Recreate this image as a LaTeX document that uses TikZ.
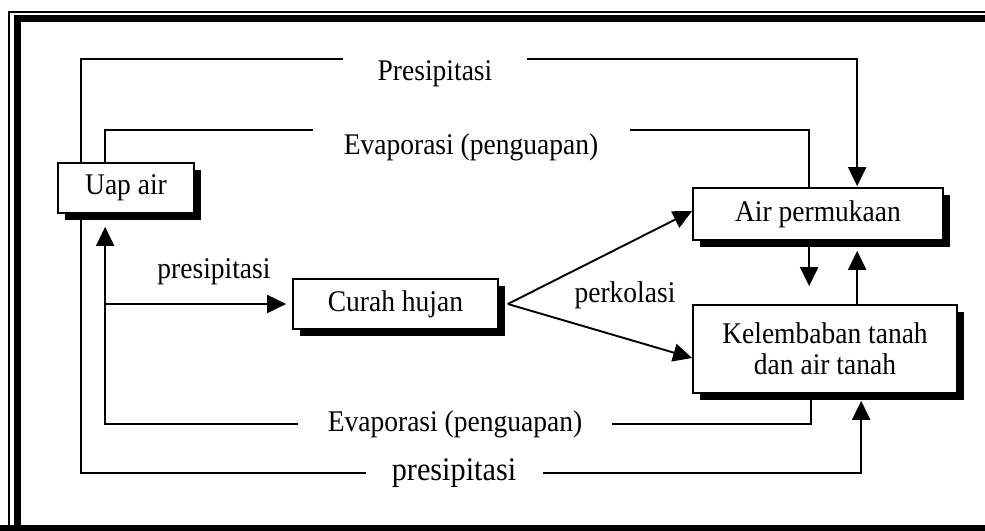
\documentclass[tikz,border=0pt]{standalone}
\usepackage{fontspec}
\setmainfont{Liberation Serif}[FakeStretch=0.917]
\usetikzlibrary{arrows.meta,shadows}
\begin{document}
\begin{tikzpicture}[x=1pt,y=-1pt,
  box/.style={draw=black, line width=1.7pt, fill=white, inner sep=0pt,
    font=\fontsize{30}{31}\selectfont, align=center,
    drop shadow={shadow xshift=7pt, shadow yshift=-7pt, fill=black, opacity=1}},
  flow/.style={line width=1.9pt},
  arr/.style={flow, -{Triangle[width=18pt,length=19pt]}},
  lbl/.style={font=\fontsize{30}{31}\selectfont, inner sep=0pt},
  gap/.style={lbl, fill=white, inner ysep=6pt, anchor=base}
]
\useasboundingbox (0,0) rectangle (985,530);

% double frame: thin outer rule, heavy inner rule, heavy bottom rule
\draw[line width=1.5pt] (9,531) -- (9,12) -- (986,12);
\draw[line width=7pt] (17.5,531) -- (17.5,18.5) -- (986,18.5);
\draw[line width=6pt] (0,528) -- (986,528);

% boxes
\node[box, minimum width=136pt, minimum height=50pt] (uap) at (126,188) {Uap air};
\node[box, minimum width=205pt, minimum height=50pt] (curah) at (395.5,304) {Curah hujan};
\node[box, minimum width=250pt, minimum height=52pt] (air) at (818,214) {Air permukaan};
\node[box, minimum width=264pt, minimum height=88pt] (kel) at (825,349) {Kelembaban tanah\\dan air tanah};

% attachment points on the box edges
\coordinate (uN1) at ([xshift=24pt]uap.north west);
\coordinate (uN2) at ([xshift=48pt]uap.north west);
\coordinate (uS1) at ([xshift=24pt]uap.south west);
\coordinate (uS2) at ([xshift=48pt,yshift=-13pt]uap.south west);
\coordinate (aN1) at ([xshift=117pt]air.north west);
\coordinate (aN2) at ([xshift=165pt,yshift=1pt]air.north west);
\coordinate (aS1) at ([xshift=117pt]air.south west);
\coordinate (aS2) at ([xshift=165pt,yshift=-10pt]air.south west);
\coordinate (kN1) at ([xshift=117pt,yshift=18pt]kel.north west);
\coordinate (kN2) at ([xshift=165pt]kel.north west);
\coordinate (kS1) at ([xshift=119pt]kel.south west);
\coordinate (kS2) at ([xshift=169pt,yshift=-7pt]kel.south west);

% connectors
\draw[arr] (uN1) -- ++(0,-103) -| (aN2);
\draw[flow] (uN2) -- ++(0,-32) -| (aN1);
\draw[arr] (kS1) -- ++(0,30) -| (uS2);
\draw[arr] (uS1) -- ++(0,259) -| (kS2);
\draw[arr] (uS2 |- curah.west) -- ([xshift=-6pt]curah.west);
\draw[arr] ([xshift=9pt]curah.east) -- ([yshift=3pt]air.west);
\draw[arr] ([xshift=9pt]curah.east) -- ([yshift=-9pt]kel.west);
\draw[arr] (aS1) -- (kN1);
\draw[arr] (kN2) -- (aS2);

% labels
\node[gap, minimum width=184pt] (lp1) at (435,80) {Presipitasi};
\node[gap, minimum width=317pt] (le1) at (471,154) {Evaporasi (penguapan)};
\node[gap, minimum width=314pt] (le2) at (455,431) {Evaporasi (penguapan)};
\node[gap, minimum width=177pt, font=\fontsize{33}{34}\selectfont] (lp2) at (454,480) {presipitasi};
\node[lbl, anchor=base] (lp3) at (214,278) {presipitasi};
\node[lbl, anchor=base] (lperk) at (625,302) {perkolasi};
\end{tikzpicture}
\end{document}
